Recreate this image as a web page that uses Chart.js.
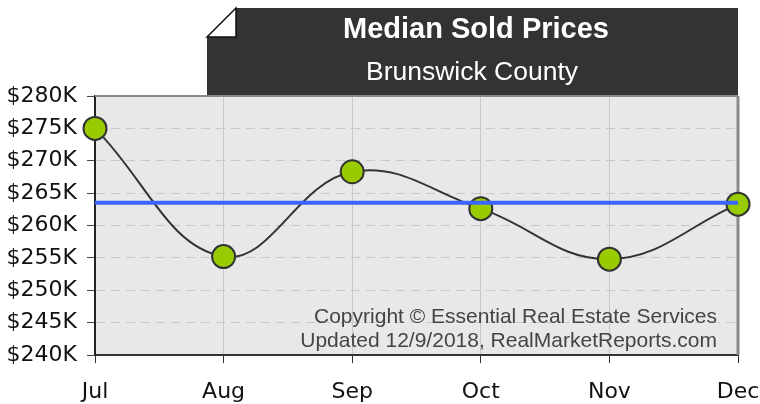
<!DOCTYPE html>
<html>
<head>
<meta charset="utf-8">
<script src="https://cdn.jsdelivr.net/npm/chart.js@4"></script>
<style>
html,body{margin:0;padding:0;background:#fff;}
#wrap{width:760px;height:404px;position:relative;}
</style>
</head>
<body>
<div id="wrap"><canvas id="c" width="760" height="404"></canvas></div>
<script>
const categories = ['Jul', 'Aug', 'Sep', 'Oct', 'Nov', 'Dec'];
const medianPrices = [275000, 255200, 268300, 262600, 254800, 263300];
const averagePrice = [263500, 263500, 263500, 263500, 263500, 263500];
const yTickLabels = ['$240K', '$245K', '$250K', '$255K', '$260K', '$265K', '$270K', '$275K', '$280K'];
const titleText = 'Median Sold Prices';
const subtitleText = 'Brunswick County';
const creditLines = ['Copyright \u00A9 Essential Real Estate Services', 'Updated 12/9/2018, RealMarketReports.com'];

const decorPlugin = {
  id: 'decor',
  beforeDraw(chart) {
    const {ctx, chartArea: a} = chart;
    ctx.save();
    ctx.fillStyle = '#e8e8e8';
    ctx.fillRect(a.left, a.top, a.right - a.left, a.bottom - a.top);
    // title box with folded corner
    const bx = 207, by = 8, br = a.right, bb = a.top, f = 29;
    ctx.fillStyle = '#333333';
    ctx.beginPath();
    ctx.moveTo(bx + f, by);
    ctx.lineTo(br, by);
    ctx.lineTo(br, bb);
    ctx.lineTo(bx, bb);
    ctx.lineTo(bx, by + f);
    ctx.closePath();
    ctx.fill();
    ctx.fillStyle = '#ffffff';
    ctx.beginPath();
    ctx.moveTo(bx, by + f);
    ctx.lineTo(bx + f, by);
    ctx.lineTo(bx + f, by + f);
    ctx.closePath();
    ctx.fill();
    ctx.strokeStyle = '#111';
    ctx.lineWidth = 1.5;
    ctx.stroke();
    ctx.fillStyle = '#ffffff';
    ctx.textAlign = 'center';
    ctx.textBaseline = 'alphabetic';
    ctx.font = 'bold 29px "Liberation Sans", Arial, sans-serif';
    ctx.fillText(titleText, 476, 38);
    ctx.font = '26.5px "Liberation Sans", Arial, sans-serif';
    ctx.fillText(subtitleText, 472, 80);
    ctx.restore();
  },
  beforeDatasetsDraw(chart) {
    const {ctx, chartArea: a} = chart;
    ctx.save();
    ctx.strokeStyle = '#8a8a8a';
    ctx.lineWidth = 2;
    ctx.beginPath();
    ctx.moveTo(a.left, a.top);
    ctx.lineTo(a.right, a.top);
    ctx.stroke();
    ctx.lineWidth = 3;
    ctx.beginPath();
    ctx.moveTo(a.right, a.top);
    ctx.lineTo(a.right, a.bottom);
    ctx.stroke();
    ctx.fillStyle = '#444';
    ctx.textAlign = 'right';
    ctx.font = '21px "Liberation Sans", Arial, sans-serif';
    ctx.fillText(creditLines[0], 717, 323);
    ctx.fillText(creditLines[1], 717, 347);
    ctx.restore();
  }
};

new Chart(document.getElementById('c'), {
  type: 'line',
  data: {
    labels: categories,
    datasets: [
      {
        label: 'Average',
        data: averagePrice,
        borderColor: '#3a66ff',
        borderWidth: 4,
        pointRadius: 0,
        tension: 0,
        fill: false,
        order: 0,
        clip: false
      },
      {
        label: 'Median Sold Price',
        data: medianPrices,
        borderColor: '#333333',
        borderWidth: 2,
        tension: 0.4,
        fill: false,
        pointRadius: 11.5,
        pointBackgroundColor: '#99cc00',
        pointBorderColor: '#333333',
        pointBorderWidth: 2,
        order: 1,
        clip: false
      }
    ]
  },
  options: {
    responsive: false,
    animation: false,
    devicePixelRatio: 1,
    layout: {padding: {top: 96, right: 22, left: 0, bottom: 0}},
    plugins: {legend: {display: false}, tooltip: {enabled: false}, title: {display: false}},
    scales: {
      x: {
        afterFit(s) { s.height = 49; s.paddingLeft = 0; s.paddingRight = 0; },
        grid: {color: '#c8c8c8', lineWidth: 1, tickLength: 8, tickColor: '#333', drawTicks: true},
        border: {display: true, color: '#333', width: 2},
        ticks: {color: '#111', padding: 16, maxRotation: 0, font: {family: '"DejaVu Sans"', size: 22}}
      },
      y: {
        min: 240000,
        max: 280000,
        afterFit(s) { s.width = 95; s.paddingTop = 0; s.paddingBottom = 0; },
        grid: {color: '#c8c8c8', lineWidth: 1, tickLength: 8, tickColor: '#444', tickBorderDash: []},
        border: {display: true, color: '#222', width: 2, dash: [9, 6]},
        ticks: {
          stepSize: 5000,
          color: '#111',
          padding: 10,
          font: {family: '"DejaVu Sans"', size: 22},
          callback: (v, i) => yTickLabels[i]
        }
      }
    }
  },
  plugins: [decorPlugin]
});
</script>
</body>
</html>
